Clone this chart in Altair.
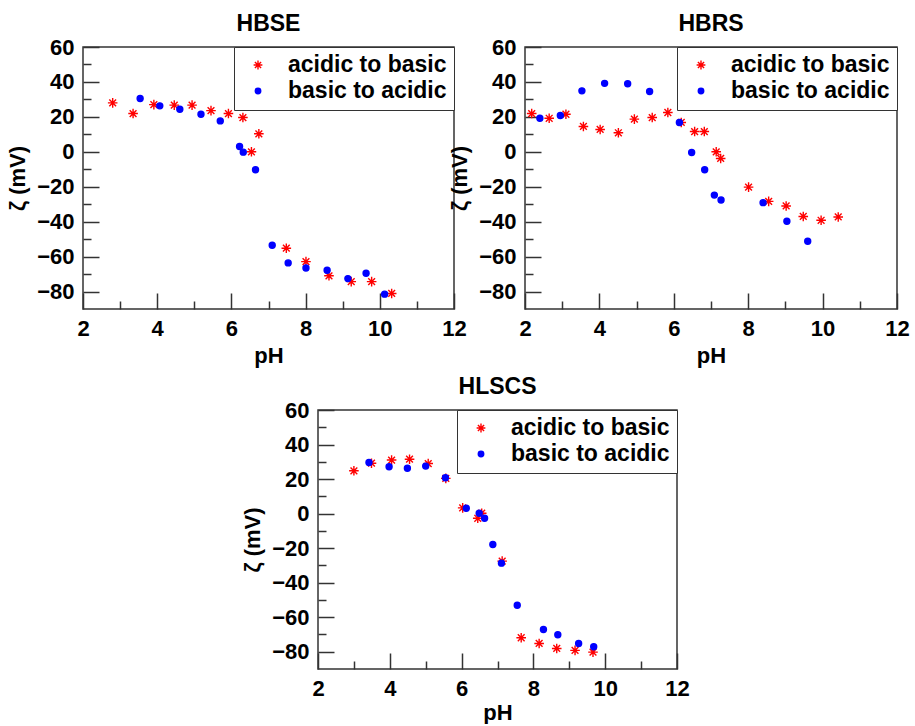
import altair as alt
import pandas as pd

FONT = "Liberation Sans"
series_names = ["acidic to basic", "basic to acidic"]
series_colors = ["#ff0000", "#0000ff"]
panel_titles = ["HBSE", "HBRS", "HLSCS"]

x_major = [2, 4, 6, 8, 10, 12]
x_minor = [3, 5, 7, 9, 11]
y_major = [-80, -60, -40, -20, 0, 20, 40, 60]
y_minor = [-70, -50, -30, -10, 10, 30, 50]
x_domain = [2, 12]
y_domain = [-90, 60]

# HBSE
hbse_ab_ph = [2.80, 3.35, 3.91, 4.46, 4.94, 5.45, 5.92, 6.31, 6.54, 6.74, 7.48, 8.01, 8.63, 9.23, 9.78, 10.32]
hbse_ab_zeta = [28.0, 21.9, 27.0, 26.7, 26.7, 23.6, 21.9, 19.6, 0.0, 10.3, -55.2, -62.9, -71.0, -74.3, -74.3, -81.1]
hbse_ba_ph = [3.54, 4.07, 4.61, 5.18, 5.70, 6.22, 6.32, 6.65, 7.10, 7.53, 8.01, 8.58, 9.14, 9.63, 10.13]
hbse_ba_zeta = [30.5, 26.3, 24.4, 21.5, 17.7, 3.0, -0.2, -10.3, -53.5, -63.6, -66.5, -67.8, -72.6, -69.5, -81.5]

# HBRS
hbrs_ab_ph = [2.18, 2.65, 3.10, 3.57, 4.02, 4.51, 4.94, 5.42, 5.84, 6.20, 6.56, 6.82, 7.14, 7.26, 8.01, 8.55, 9.02, 9.48, 9.96, 10.42]
hbrs_ab_zeta = [21.9, 19.2, 21.5, 14.5, 12.8, 10.9, 18.7, 19.6, 22.5, 16.8, 11.6, 11.6, 0.0, -3.8, -20.2, -28.4, -31.0, -37.0, -39.2, -37.3]
hbrs_ba_ph = [2.40, 2.95, 3.53, 4.14, 4.76, 5.35, 6.15, 6.48, 6.83, 7.09, 7.27, 8.40, 9.04, 9.60]
hbrs_ba_zeta = [19.2, 20.8, 34.9, 39.2, 39.0, 34.5, 16.8, -0.4, -10.3, -24.8, -27.6, -29.1, -39.8, -51.2]

# HLSCS
hlscs_ab_ph = [3.00, 3.49, 4.05, 4.55, 5.07, 5.56, 6.03, 6.45, 6.56, 7.13, 7.66, 8.16, 8.65, 9.16, 9.66]
hlscs_ab_zeta = [24.8, 29.2, 31.0, 31.5, 29.0, 20.4, 3.3, -2.7, 0.2, -27.5, -71.9, -75.2, -78.1, -79.2, -80.2]
hlscs_ba_ph = [3.42, 3.98, 4.49, 5.00, 5.55, 6.13, 6.49, 6.64, 6.87, 7.11, 7.55, 8.28, 8.68, 9.26, 9.68]
hlscs_ba_zeta = [29.6, 27.1, 26.3, 27.5, 20.8, 3.1, 0.2, -2.7, -17.9, -28.7, -53.1, -67.1, -70.2, -75.2, -77.1]

STAR = "M-1.6,0L1.6,0M0,-1.6L0,1.6M-1.13,-1.13L1.13,1.13M-1.13,1.13L1.13,-1.13"
TICK_COLOR = "#333333"


def panel(title, ab_ph, ab_z, ba_ph, ba_z, w, h, xtitle_pad):
    df = pd.DataFrame({
        "pH": ab_ph + ba_ph,
        "zeta": ab_z + ba_z,
        "series": [series_names[0]] * len(ab_ph) + [series_names[1]] * len(ba_ph),
    })
    xs = alt.Scale(domain=x_domain, nice=False, zero=False)
    ys = alt.Scale(domain=y_domain, nice=False, zero=False)
    cscale = alt.Scale(domain=series_names, range=series_colors)
    sscale = alt.Scale(domain=series_names, range=[STAR, "circle"])
    leg = alt.Legend(
        title=None, orient="top-right", offset=0, padding=6.5, rowPadding=2,
        symbolOffset=6, labelOffset=18.5, strokeColor=TICK_COLOR, fillColor="white",
        labelFont=FONT, labelFontSize=23, labelFontWeight="bold", labelColor="black",
        symbolSize=30, symbolStrokeWidth=1.4, labelLimit=400,
    )
    base = alt.Chart(df)
    pts = base.mark_point(filled=True, opacity=1, strokeWidth=1.4, size=36).encode(
        x=alt.X("pH:Q", scale=xs, axis=alt.Axis(
            orient="bottom", values=x_major, ticks=False, tickSize=0, domain=False,
            grid=False, labelFlush=False, labelOverlap=False, title="pH",
            labelPadding=9, titlePadding=xtitle_pad)),
        y=alt.Y("zeta:Q", scale=ys, axis=alt.Axis(
            orient="left", values=y_major, ticks=False, tickSize=0, domain=False,
            grid=False, labelFlush=False, labelOverlap=False, title="ζ (mV)",
            labelPadding=9, titlePadding=7)),
        fill=alt.Fill("series:N", scale=cscale, legend=leg),
        stroke=alt.Stroke("series:N", scale=cscale, legend=leg),
        shape=alt.Shape("series:N", scale=sscale, legend=leg),
    )

    def tick_layer(xv, yv, length):
        return base.mark_point(opacity=0).encode(
            x=alt.X("pH:Q", scale=xs, axis=alt.Axis(
                orient="bottom", values=xv, offset=-length, tickSize=length,
                labels=False, domain=False, grid=False, title=None,
                tickColor=TICK_COLOR, tickWidth=1.5)),
            y=alt.Y("zeta:Q", scale=ys, axis=alt.Axis(
                orient="left", values=yv, offset=-length, tickSize=length,
                labels=False, domain=False, grid=False, title=None,
                tickColor=TICK_COLOR, tickWidth=1.5)),
        )

    return alt.layer(
        tick_layer(x_major, y_major, 16),
        tick_layer(x_minor, y_minor, 8),
        pts,
    ).resolve_axis(x="independent", y="independent").properties(
        width=w, height=h,
        title=alt.TitleParams(text=title, font=FONT, fontSize=23, fontWeight="bold",
                              color="black", anchor="middle", frame="group", offset=0),
    )


p1 = panel(panel_titles[0], hbse_ab_ph, hbse_ab_zeta, hbse_ba_ph, hbse_ba_zeta, 371, 262, 6)
p2 = panel(panel_titles[1], hbrs_ab_ph, hbrs_ab_zeta, hbrs_ba_ph, hbrs_ba_zeta, 372, 262, 6)
p3 = panel(panel_titles[2], hlscs_ab_ph, hlscs_ab_zeta, hlscs_ba_ph, hlscs_ba_zeta, 359, 259, 3)

spacer = alt.Chart(pd.DataFrame({"v": [0]})).mark_point(opacity=0).encode(
    x=alt.X("v:Q", axis=None), y=alt.Y("v:Q", axis=None)
).properties(width=156, height=10, view=alt.ViewBackground(stroke="transparent"))

top = alt.hconcat(p1, p2, spacing=-20).resolve_scale(
    fill="independent", stroke="independent", shape="independent")
bottom = alt.hconcat(spacer, p3, spacing=0).resolve_scale(
    fill="independent", stroke="independent", shape="independent")

chart = alt.vconcat(top, bottom, spacing=8).resolve_scale(
    fill="independent", stroke="independent", shape="independent"
).properties(
    padding={"left": 5, "top": 12, "right": 0, "bottom": 0}
).configure_view(
    stroke=TICK_COLOR, strokeWidth=1.5
).configure_axis(
    labelFont=FONT, labelFontSize=22, labelFontWeight="bold", labelColor="black",
    titleFont=FONT, titleFontSize=22, titleFontWeight="bold", titleColor="black",
)

chart.save("out.html", embed_options={"renderer": "svg", "actions": False})
